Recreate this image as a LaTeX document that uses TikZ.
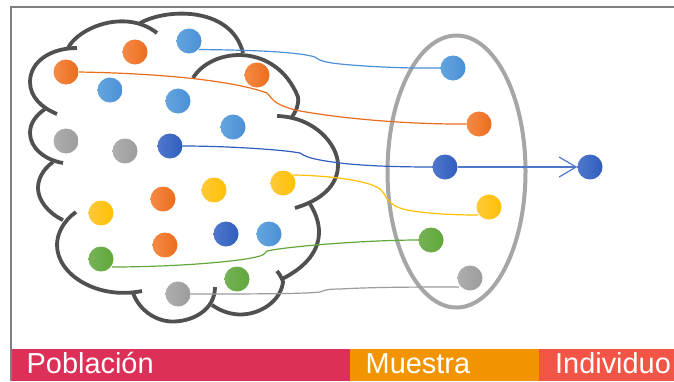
\documentclass[tikz,border=0pt]{standalone}
\usepackage{fontspec}
\setmainfont{Liberation Sans}
\usetikzlibrary{arrows.meta,shapes.geometric}
\definecolor{cloudc}{HTML}{505050}
\definecolor{framec}{HTML}{7F7F7F}
\definecolor{ringc}{HTML}{A6A6A6}
\definecolor{bluL}{HTML}{64A5DE}\definecolor{bluR}{HTML}{4A90D6}
\definecolor{oraL}{HTML}{F48A46}\definecolor{oraR}{HTML}{EC6D1C}
\definecolor{graL}{HTML}{AEAEAE}\definecolor{graR}{HTML}{9C9C9C}
\definecolor{dbuL}{HTML}{4F78CC}\definecolor{dbuR}{HTML}{2F5EBC}
\definecolor{yelL}{HTML}{FFC93A}\definecolor{yelR}{HTML}{FFC000}
\definecolor{greL}{HTML}{76B257}\definecolor{greR}{HTML}{60A83A}
\definecolor{barP}{HTML}{DC3058}\definecolor{barM}{HTML}{F29400}\definecolor{barI}{HTML}{F25545}
\tikzset{
  dot/.style={circle,draw=none,inner sep=0pt,minimum size=25pt},
  bludot/.style={dot,left color=bluL,right color=bluR},
  oradot/.style={dot,left color=oraL,right color=oraR},
  gradot/.style={dot,left color=graL,right color=graR},
  dbudot/.style={dot,left color=dbuL,right color=dbuR},
  yeldot/.style={dot,left color=yelL,right color=yelR},
  gredot/.style={dot,left color=greL,right color=greR},
  cloudline/.style={draw=cloudc,line width=3.8pt},
  link/.style={line width=1.2pt},
  barlabel/.style={text=white,anchor=base west,inner sep=0pt,font=\fontsize{28.9}{30}\selectfont},
}
\begin{document}
\begin{tikzpicture}[x=1pt,y=-1pt]
\useasboundingbox (0,0) rectangle (674,381);
\fill[white] (0,0) rectangle (674,381);
% frame
\draw[framec,line width=2pt] (11,381) -- (11,7) -- (674,7);
% bars
\fill[barP] (12,349) rectangle (350,381);
\fill[barM] (350,349) rectangle (539,381);
\fill[barI] (539,349) rectangle (674,381);
\node[barlabel] (lp) at (26.5,373) {Población};
\node[barlabel] (lm) at (365.5,373) {Muestra};
\node[barlabel] (li) at (555,373) {Individuo};
% cloud
\draw[cloudline] (68,48) .. controls (78,28) and (125,8) .. (157,33);
\draw[cloudline] (140,23) .. controls (170,7) and (232,8) .. (243,53);
\draw[cloudline] (193,78) .. controls (212,47) and (276,42) .. (298,97) .. controls (299,105) and (296,111) .. (292,117);
\draw[cloudline] (277,116) .. controls (315,117) and (338,145) .. (338,165) .. controls (338,185) and (322,200) .. (295,208);
\draw[cloudline] (77,48) .. controls (50,48) and (30,62) .. (30,82) .. controls (30,97) and (42,108) .. (57,114);
\draw[cloudline] (45,109) .. controls (35,116) and (30,124) .. (30,133) .. controls (30,148) and (45,160) .. (63,163);
\draw[cloudline] (53,162) .. controls (42,170) and (38,180) .. (38,188) .. controls (38,200) and (48,213) .. (63,220);
\draw[cloudline] (76,212) .. controls (62,222) and (57,235) .. (57,245) .. controls (57,275) and (98,300) .. (142,291);
\draw[cloudline] (133,293) .. controls (140,312) and (158,322) .. (174,321.5) .. controls (193,321) and (215,310) .. (215,287);
\draw[cloudline] (212,305) .. controls (222,312) and (232,314.5) .. (241,314.5) .. controls (262,314) and (281,300) .. (283,282) .. controls (282,278) and (280,275) .. (277,271);
\draw[cloudline] (310,204) .. controls (317,215) and (319,225) .. (319,232) .. controls (319,255) and (300,270) .. (282,279);
% sample ring
\node[draw=ringc,line width=4pt,ellipse,inner sep=0pt,minimum width=138pt,minimum height=272pt] (ring) at (456.5,171.5) {};
% population dots
\node[oradot] (o1) at (135,52) {};
\node[bludot] (b1) at (189,41) {};
\node[oradot] (o2) at (66,72) {};
\node[bludot] (b2) at (110,90) {};
\node[bludot] (b3) at (178,101) {};
\node[oradot] (o3) at (257,75) {};
\node[gradot] (g1) at (66,141) {};
\node[gradot] (g2) at (125,151) {};
\node[dbudot] (d1) at (170,146) {};
\node[bludot] (b4) at (233,127) {};
\node[yeldot] (y1) at (214,190) {};
\node[yeldot] (y2) at (283,183) {};
\node[oradot] (o4) at (163,199) {};
\node[yeldot] (y3) at (101,213) {};
\node[dbudot] (d2) at (226,234) {};
\node[bludot] (b5) at (269,234) {};
\node[oradot] (o5) at (165,245) {};
\node[gredot] (e1) at (101,259) {};
\node[gredot] (e2) at (237,279) {};
\node[gradot] (g3) at (178,294) {};
% sample dots
\node[bludot] (sb) at (453,68) {};
\node[oradot] (so) at (479,124) {};
\node[dbudot] (sd) at (445,167) {};
\node[yeldot] (sy) at (489,207) {};
\node[gredot] (se) at (431,240) {};
\node[gradot] (sg) at (470,278) {};
\node[dbudot] (ind) at (590,167) {};
% connector free ends on the dots' rims
\path (b1) ++(10,8.5) coordinate (s1);
\path (y2) ++(10,-8) coordinate (s2);
\path (sy) ++(-11,8) coordinate (s3);
\path (e1) ++(11,8) coordinate (s4);
\path (sg) ++(-11,9) coordinate (s5);
% connectors
\draw[link,draw=bluR] (s1) .. controls (240,50) and (295,51) .. (315,57) .. controls (319,60) and (322,62) .. (340,64) .. controls (370,67) and (410,68.5) .. (sb.west);
\draw[link,draw=oraR] (o2.east) .. controls (140,73) and (225,78) .. (267,93) .. controls (272,97) and (270,103) .. (295,110) .. controls (330,117) and (400,124.5) .. (so.west);
\draw[link,draw=dbuR] (d1.east) .. controls (230,146) and (285,150) .. (300,153) .. controls (305,156) and (308,159) .. (340,163) .. controls (365,166) and (400,167) .. (sd.west);
\draw[link,draw=dbuL,-{Straight Barb[length=17pt,width=20pt,line width=1.2pt]}] (sd.east) -- (ind.west);
\draw[link,draw=yelR] (s2) .. controls (310,175) and (365,178) .. (380,189) .. controls (388,196) and (385,205) .. (407,210) .. controls (430,214) and (455,215) .. (s3);
\draw[link,draw=greR] (s4) .. controls (170,267) and (240,262) .. (260,256) .. controls (266,254) and (264,253) .. (267,251) .. controls (290,246) and (370,240) .. (se.west);
\draw[link,draw=graR] (g3.east) .. controls (240,294) and (305,294) .. (320,292) .. controls (325,290) and (328,289) .. (340,289) .. controls (375,287) and (420,287) .. (s5);
\end{tikzpicture}
\end{document}
